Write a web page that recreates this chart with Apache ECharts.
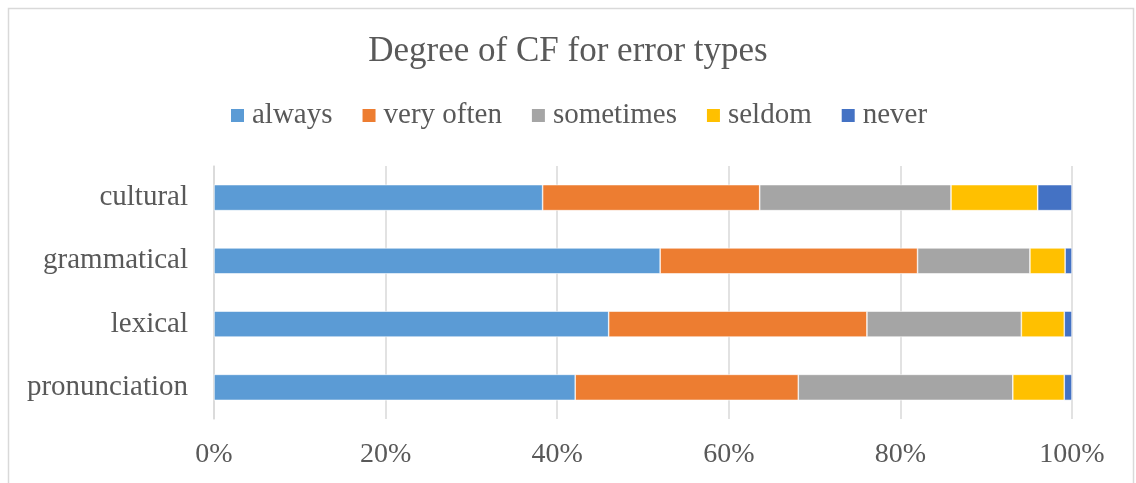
<!DOCTYPE html>
<html>
<head>
<meta charset="utf-8">
<script src="https://cdn.jsdelivr.net/npm/echarts@6/dist/echarts.min.js"></script>
<style>
  html, body { margin: 0; padding: 0; background: #fff; }
  #chart { width: 1136px; height: 483px; }
</style>
</head>
<body>
<div id="chart"></div>
<script>
// categories bottom -> top (category axis draws first at bottom)
var categories = ['pronunciation', 'lexical', 'grammatical', 'cultural'];
var seriesNames = ['always', 'very often', 'sometimes', 'seldom', 'never'];
var colors = ['#5b9bd5', '#ed7d31', '#a5a5a5', '#ffc000', '#4472c4'];

// percentages
var always    = [42.1, 46.0, 52.0, 38.3];
var veryOften = [26.0, 30.1, 30.0, 25.3];
var sometimes = [25.0, 18.0, 13.1, 22.3];
var seldom    = [6.0, 5.0, 4.1, 10.1];
var never     = [0.9, 0.9, 0.8, 4.0];

var xTicks = [0, 20, 40, 60, 80, 100];

var allData = [always, veryOften, sometimes, seldom, never];

var chart = echarts.init(document.getElementById('chart'));
var font = '"Liberation Serif", "Times New Roman", serif';

var option = {
  animation: false,
  color: colors,
  textStyle: { fontFamily: font },
  title: {
    text: 'Degree of CF for error types',
    left: 'center',
    top: 29,
    textStyle: { fontFamily: font, fontSize: 35, fontWeight: 'normal', color: '#595959' }
  },
  legend: {
    data: seriesNames,
    top: 101,
    left: 229,
    padding: 0,
    itemWidth: 15,
    itemHeight: 15,
    itemGap: 28,
    icon: 'rect',
    textStyle: { fontFamily: font, fontSize: 29, color: '#595959', padding: [0, 0, 0, 2] }
  },
  graphic: [{
    type: 'rect',
    shape: { x: 8.5, y: 8.5, width: 1125, height: 520 },
    style: { fill: 'none', stroke: '#d9d9d9', lineWidth: 1.5 },
    silent: true
  }],
  grid: { left: 214, right: 64, top: 166, bottom: 64, containLabel: false },
  xAxis: {
    type: 'value',
    min: 0,
    max: 100,
    interval: 20,
    axisLine: { show: false },
    axisTick: { show: false },
    splitLine: { lineStyle: { color: '#d9d9d9', width: 1.5 } },
    axisLabel: {
      margin: 22,
      fontFamily: font,
      fontSize: 28,
      color: '#595959',
      formatter: function (v) { return xTicks.indexOf(v) >= 0 ? v + '%' : ''; }
    }
  },
  yAxis: {
    type: 'category',
    data: categories,
    axisLine: { show: true, lineStyle: { color: '#d9d9d9', width: 1.5 } },
    axisTick: { show: false },
    axisLabel: { margin: 26, fontFamily: font, fontSize: 29, color: '#595959' }
  },
  series: seriesNames.map(function (name, i) {
    return {
      name: name,
      type: 'bar',
      stack: 'total',
      barWidth: 26,
      data: allData[i],
      itemStyle: { borderColor: '#fff', borderWidth: 0.6 }
    };
  })
};

chart.setOption(option);
</script>
</body>
</html>
